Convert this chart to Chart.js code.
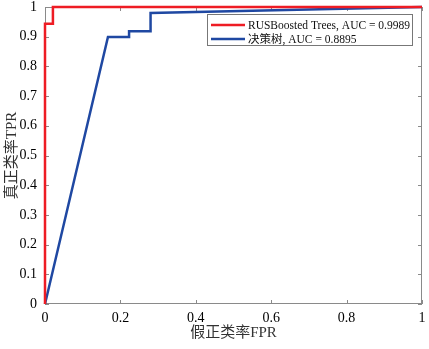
<!DOCTYPE html>
<html>
<head>
  <meta charset="utf-8">
  <title>ROC</title>
  <script src="https://cdn.jsdelivr.net/npm/chart.js"></script>
  <style>
    * { margin: 0; padding: 0; box-sizing: border-box; }
    html, body { width: 429px; height: 349px; background: #fff; overflow: hidden; }
    #rocChart { display: block; }
  </style>
</head>
<body>
  <canvas id="rocChart" width="429" height="349"></canvas>
  <script>
    // ROC points
    const seriesNames = ['RUSBoosted Trees, AUC = 0.9989', '决策树, AUC = 0.8895'];
    const fprRus = [0, 0, 0.021, 0.021, 1];
    const tprRus = [0, 0.944, 0.944, 1, 1];
    const fprTree = [0, 0.167, 0.223, 0.223, 0.280, 0.280, 1];
    const tprTree = [0, 0.899, 0.899, 0.918, 0.918, 0.980, 1];
    const xTitle = '假正类率FPR';
    const yTitle = '真正类率TPR';

    const toPoints = (xs, ys) => xs.map((x, i) => ({ x: x, y: ys[i] }));
    const fmt = v => String(Number(v.toFixed(1)));
    const serif = "'Liberation Serif', 'Noto Sans CJK SC', serif";

    // fixed axis box sizes, no extra label overhang padding
    const fixBox = (w, h) => s => {
      if (w) s.width = w;
      if (h) s.height = h;
      s.paddingTop = s.paddingBottom = s.paddingLeft = s.paddingRight = 0;
    };

    // frame + inward tick marks on all four sides
    const framePlugin = {
      id: 'frame',
      beforeDatasetsDraw(chart) {
        const { ctx, chartArea: a, scales } = chart;
        ctx.save();
        ctx.strokeStyle = '#8a8a8a';
        ctx.lineWidth = 1;
        ctx.strokeRect(a.left + 0.5, a.top + 0.5, a.right - a.left - 1, a.bottom - a.top - 1);
        ctx.beginPath();
        scales.x.ticks.forEach(t => {
          const px = Math.round(scales.x.getPixelForValue(t.value)) + 0.5;
          ctx.moveTo(px, a.bottom); ctx.lineTo(px, a.bottom - 4);
          ctx.moveTo(px, a.top); ctx.lineTo(px, a.top + 4);
        });
        scales.y.ticks.forEach(t => {
          const py = Math.round(scales.y.getPixelForValue(t.value)) + 0.5;
          ctx.moveTo(a.left, py); ctx.lineTo(a.left + 4, py);
          ctx.moveTo(a.right, py); ctx.lineTo(a.right - 4, py);
        });
        ctx.stroke();
        ctx.restore();
      }
    };

    // legend box in the top right of the plot
    const legendPlugin = {
      id: 'boxLegend',
      afterDatasetsDraw(chart) {
        const { ctx } = chart;
        const bx = 207.5, by = 14.5, bw = 205, bh = 31;
        ctx.save();
        ctx.fillStyle = '#fff';
        ctx.fillRect(bx, by, bw, bh);
        ctx.strokeStyle = '#777';
        ctx.lineWidth = 1;
        ctx.strokeRect(bx, by, bw, bh);
        ctx.font = '11.5px ' + serif;
        ctx.textBaseline = 'middle';
        chart.data.datasets.forEach((ds, i) => {
          const y = 25 + i * 14;
          ctx.strokeStyle = ds.borderColor;
          ctx.lineWidth = 2.5;
          ctx.beginPath();
          ctx.moveTo(211, y); ctx.lineTo(245, y);
          ctx.stroke();
          ctx.fillStyle = '#111';
          ctx.fillText(ds.label, 248, y + 1);
        });
        ctx.restore();
      }
    };

    new Chart(document.getElementById('rocChart'), {
      type: 'scatter',
      data: {
        datasets: [{
          label: seriesNames[0],
          data: toPoints(fprRus, tprRus),
          borderColor: '#ee1c24',
          borderWidth: 2.5,
          showLine: true,
          pointRadius: 0,
          clip: false
        }, {
          label: seriesNames[1],
          data: toPoints(fprTree, tprTree),
          borderColor: '#1f48a2',
          borderWidth: 2.5,
          showLine: true,
          pointRadius: 0,
          clip: false
        }]
      },
      options: {
        responsive: false,
        animation: false,
        layout: { padding: { top: 7, right: 7, left: 0, bottom: 0 } },
        plugins: { legend: { display: false }, tooltip: { enabled: false } },
        scales: {
          x: {
            type: 'linear', min: 0, max: 1,
            grid: { display: false, drawTicks: false },
            border: { display: false },
            ticks: { stepSize: 0.2, padding: 7, color: '#000', maxRotation: 0, callback: fmt,
                     font: { family: serif, size: 14, lineHeight: 1 } },
            title: { display: true, text: xTitle, color: '#333',
                     font: { family: serif, size: 15, lineHeight: 1.2 },
                     padding: { top: 0, bottom: 7 } },
            afterFit: fixBox(0, 45)
          },
          y: {
            type: 'linear', min: 0, max: 1,
            grid: { display: false, drawTicks: false },
            border: { display: false },
            ticks: { stepSize: 0.1, padding: 8, color: '#000', callback: fmt,
                     font: { family: serif, size: 14, lineHeight: 1 } },
            title: { display: true, text: yTitle, color: '#333',
                     font: { family: serif, size: 15, lineHeight: 1.2 },
                     padding: { top: 3, bottom: 0 } },
            afterFit: fixBox(45, 0)
          }
        }
      },
      plugins: [framePlugin, legendPlugin]
    });
  </script>
</body>
</html>
